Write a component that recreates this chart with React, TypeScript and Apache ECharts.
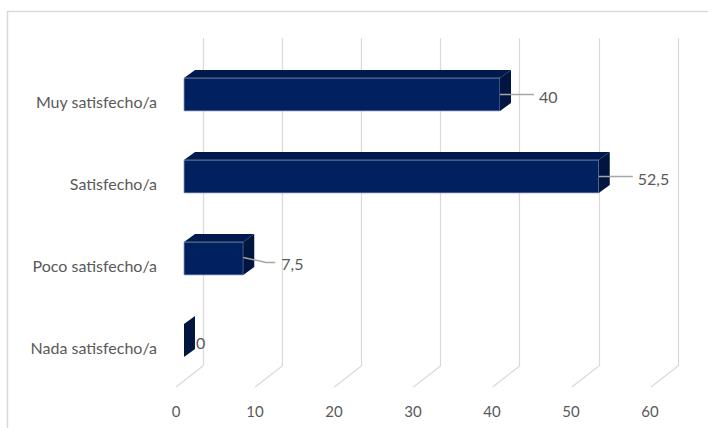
import React, { useEffect, useRef } from "react";
import * as echarts from "echarts";

const categories = ["Muy satisfecho/a", "Satisfecho/a", "Poco satisfecho/a", "Nada satisfecho/a"];
const values = [40, 52.5, 7.5, 0];
const valueLabels = ["40", "52,5", "7,5", "0"];
const xTicks = [0, 10, 20, 30, 40, 50, 60];

const FONT = "Lato, 'Noto Sans', sans-serif";
const TEXT = "#595959";
const GRID = "#d9d9d9";
const DX = 11;
const DY = -8;

export default function App() {
  const ref = useRef<HTMLDivElement>(null);
  useEffect(() => {
    document.body.style.margin = "0";
    if (!ref.current) return;
    const chart = echarts.init(ref.current, undefined, { renderer: "svg" });
    const option: any = {
      animation: false,
      backgroundColor: "#ffffff",
      graphic: [
        {
          type: "rect",
          shape: { x: 7.5, y: 11.5, width: 760, height: 460 },
          style: { fill: "none", stroke: GRID, lineWidth: 1.5 },
          silent: true,
          z: -10,
        },
      ],
      grid: [
        { left: 203, top: 38, width: 475, height: 328 },
        { left: 176, top: 59, width: 474, height: 328 },
        { left: 184, top: 53.5, width: 474, height: 328 },
        { left: 184, top: 60.5, width: 474, height: 328 },
      ],
      xAxis: [
        {
          gridIndex: 0, type: "value", min: 0, max: 60, interval: 10,
          axisLine: { show: false }, axisTick: { show: false }, axisLabel: { show: false },
          splitLine: { show: true, lineStyle: { color: GRID, width: 1.2 } },
        },
        {
          gridIndex: 1, type: "value", min: 0, max: 60, interval: 10,
          axisLine: { show: false }, axisTick: { show: false }, splitLine: { show: false },
          axisLabel: { show: true, color: TEXT, fontSize: 15, fontFamily: FONT, margin: 16, showMinLabel: true, showMaxLabel: true },
        },
        { gridIndex: 2, type: "value", min: 0, max: 60, interval: 10, show: false },
        { gridIndex: 3, type: "value", min: 0, max: 60, interval: 10, show: false },
      ],
      yAxis: [
        { gridIndex: 0, type: "value", min: 0, max: 1, show: false },
        { gridIndex: 1, type: "value", min: 0, max: 1, show: false },
        { gridIndex: 2, type: "category", data: categories, inverse: true, show: false },
        {
          gridIndex: 3, type: "category", data: categories, inverse: true,
          axisLine: { show: false }, axisTick: { show: false }, splitLine: { show: false },
          axisLabel: { color: TEXT, fontSize: 16, fontFamily: FONT, margin: 27 },
        },
      ],
      series: [
        {
          type: "custom",
          xAxisIndex: 0,
          yAxisIndex: 0,
          data: xTicks.map((t) => [t, 0]),
          encode: { x: 0, y: 1 },
          silent: true,
          renderItem: (params: any, api: any) => {
            const p = api.coord([api.value(0), 0]);
            return {
              type: "line",
              shape: { x1: p[0], y1: p[1], x2: p[0] - 27, y2: p[1] + 21 },
              style: { stroke: GRID, lineWidth: 1.2 },
            };
          },
        },
        {
          type: "custom",
          xAxisIndex: 2,
          yAxisIndex: 2,
          data: values.map((v, i) => [v, i]),
          encode: { x: 0, y: 1 },
          silent: true,
          renderItem: (params: any, api: any) => {
            const v = api.value(0);
            const i = api.value(1);
            const s = api.coord([0, i]);
            const e = api.coord([v, i]);
            const band = api.size([0, 1])[1];
            const h = band * 0.4;
            const x0 = s[0];
            const x1 = e[0];
            const c = s[1];
            const y0 = c - h / 2;
            const y1 = c + h / 2;
            const children: any[] = [];
            if (x1 - x0 > 0.5) {
              children.push({
                type: "polygon",
                shape: { points: [[x0, y0], [x1, y0], [x1 + DX, y0 + DY], [x0 + DX, y0 + DY]] },
                style: { fill: "#001a4d" },
              });
              children.push({
                type: "polygon",
                shape: { points: [[x0, y0], [x1, y0], [x1, y1], [x0, y1]] },
                style: { fill: "#002060", stroke: "#8e9dbc", lineWidth: 0.8 },
              });
            }
            children.push({
              type: "polygon",
              shape: { points: [[x1, y0], [x1 + DX, y0 + DY], [x1 + DX, y1 + DY], [x1, y1]] },
              style: { fill: "#00153f" },
            });
            const label = valueLabels[params.dataIndex];
            const ts = { fill: TEXT, fontSize: 16, fontFamily: FONT, align: "left", verticalAlign: "middle" };
            if (x1 - x0 <= 0.5) {
              children.push({
                type: "text",
                style: { ...ts, text: label, x: x1 + DX + 1, y: c + 2 },
              });
            } else if (v < 10) {
              children.push({
                type: "polyline",
                shape: { points: [[x1, c - 1], [x1 + 23, c + 4], [x1 + 32, c + 4]] },
                style: { stroke: "#a6a6a6", lineWidth: 1.5, fill: "none" },
              });
              children.push({
                type: "text",
                style: { ...ts, text: label, x: x1 + 38, y: c + 5 },
              });
            } else {
              children.push({
                type: "line",
                shape: { x1: x1, y1: c, x2: x1 + 34, y2: c },
                style: { stroke: "#a6a6a6", lineWidth: 1.5 },
              });
              children.push({
                type: "text",
                style: { ...ts, text: label, x: x1 + 39, y: c + 1.5 },
              });
            }
            return { type: "group", children };
          },
        },
      ],
    };
    chart.setOption(option);
    return () => chart.dispose();
  }, []);
  return <div ref={ref} style={{ width: 708, height: 428 }} />;
}
